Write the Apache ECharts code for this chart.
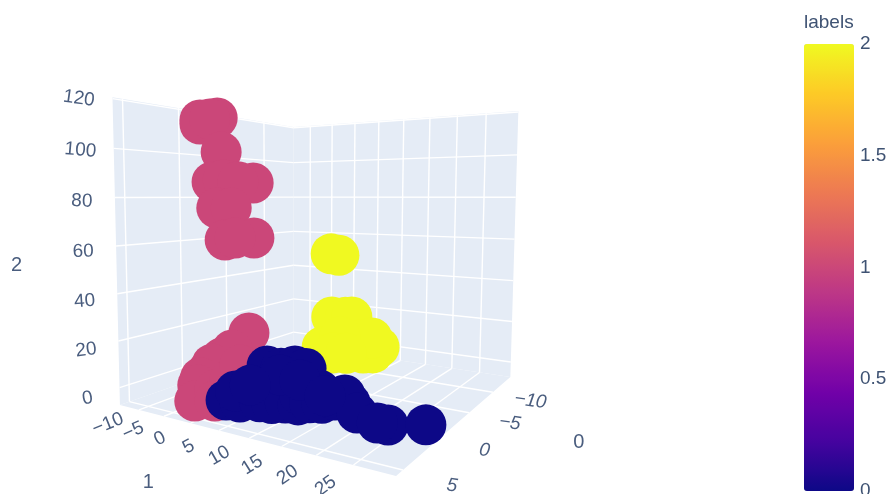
<!DOCTYPE html>
<html>
<head>
<meta charset="utf-8">
<script src="https://cdn.jsdelivr.net/npm/echarts@6/dist/echarts.min.js"></script>
<style>html,body{margin:0;background:#fff}#main{width:890px;height:494px}</style>
</head>
<body>
<div id="main"></div>
<script>
// [axis 0, axis 1, axis 2] per point
const label1Points = [
  [-4, -13.8, 118.7], [-4, -17.7, 118.4], [-4, -17.7, 116.4], [-4, -15.5, 118.5], [-4, -13, 102.1], [-4, -15.1, 87.6],
  [-4, -6.2, 86.8], [-4, -12.6, 88.5], [-4, -9.4, 87.5], [-4, -14.1, 74.7], [-4, -10.9, 74.8], [-4, -12.3, 59],
  [-4, -6.1, 60.6], [-4, -10.1, 60.2],
  [0, -0.2, 21.2], [0, -5.6, 7.9], [0, -3.5, 12.4], [0, -8.7, 0.1], [0, -7.6, 4.3], [0, -10.1, -3.2], [0, -10.7, -6.9],
  [0, -11.4, -14.9], [0, -7.1, -7.5], [0, -4, -1.5], [0, -2, 6.2], [0, -7.1, -12.7]
]
const label2Points = [
  [-10, 0.8, 51], [-10, 2.4, 50.5], [-10, 1, 18.2], [-10, 3.8, 18.8], [-10, 5.1, 19.4], [-10, 10.5, 5.8], [-10, 7.4, 1.6],
  [-10, 9.3, 2.4], [-10, -1, 1.6], [-10, 6.8, 8.1], [-10, 9.1, 9.9], [-10, 2.7, 8.2], [-10, 1.3, -0.7], [-10, 4, 0.2]
]
const label0Points = [
  [2, -1, -5.6], [2, 1.6, -5.1], [2, 0.8, -0.8], [2, 5.2, -3.2], [2, 7.3, -2.8], [2, 9.6, -1.4], [2, 11.7, -1.1], [2, 12, 3],
  [2, 15.2, 6.5], [2, 13.6, 0.7], [2, 15.5, 1.5], [2, 17.5, 3.8], [2, 19.8, 3.8], [2, 19, 6.5], [2, 20.8, 0.5],
  [2, 25.2, -1.5], [2, 23.7, -1.6], [2, 30.2, 1.4], [2, 6.5, 12.3], [2, 8.9, 12.4], [2, 11.2, 14.3], [2, 13, 14],
  [2, 8.7, 9.6], [2, 3.5, 3], [2, 12, 9], [2, 16, 4.7]
]
const xTicks = [-10, -5, 0, 5]
const yTicks = [-10, -5, 0, 5, 10, 15, 20, 25]
const zTicks = [0, 20, 40, 60, 80, 100, 120]
const plasma = ['#0d0887', '#46039f', '#7201a8', '#9c179e', '#bd3786', '#d8576b', '#ed7953', '#fb9f3a', '#fdca26', '#f0f921']

// scene box and the camera fitted to it
const xMin = -14.4, xMax = 5.8, yMin = -14, yMax = 30.3, zMin = -7.5, zMax = 120.5
const camera = [
  [-14.03637, 3.828424, -0.0912544, 250.2808],
  [-3.830144, -1.090974, -2.353227, 380.7776],
  [-0.01950874, -0.005549889, -0.0003106053, 1]
]
function project(p) {
  const [a, b, c] = camera.map(r => r[0] * p[0] + r[1] * p[1] + r[2] * p[2] + r[3])
  return [a / c, b / c]
}

const walls = [
  [[xMax, yMin, zMin], [xMin, yMin, zMin], [xMin, yMin, zMax], [xMax, yMin, zMax]],
  [[xMin, yMin, zMin], [xMin, yMax, zMin], [xMin, yMax, zMax], [xMin, yMin, zMax]],
  [[xMax, yMin, zMin], [xMin, yMin, zMin], [xMin, yMax, zMin], [xMax, yMax, zMin]]
]
const gridLines = []
for (const x of xTicks) {
  gridLines.push([[x, yMin, zMin], [x, yMin, zMax]], [[x, yMin, zMin], [x, yMax, zMin]])
}
for (const y of yTicks) {
  gridLines.push([[xMin, y, zMin], [xMin, y, zMax]], [[xMin, y, zMin], [xMax, y, zMin]])
}
for (const z of zTicks) {
  gridLines.push([[xMax, yMin, z], [xMin, yMin, z]], [[xMin, yMin, z], [xMin, yMax, z]])
}

const minus = v => String(v).replace('-', '\u2212')
const deg = Math.PI / 180
const sceneTexts = [
  ...zTicks.map(z => ({ at: [xMax + 1.75, yMin - 2.2, z - 2.7 + z * 0.015], text: minus(z), rot: (10 - z * 0.15) * deg })),
  ...yTicks.map(y => ({ at: [xMax + 2.2, y - 0.7, zMin - 2], text: minus(y), rot: (22 + (y + 10) * 0.4) * deg })),
  ...xTicks.map(x => ({ at: [x, yMax + 5.7, zMin - 1.1], text: minus(x), rot: -8 * deg, italic: true })),
  { at: [xMax + 4, yMin - 10.2, 52.5], text: '2', size: 20 },
  { at: [xMax + 5.5, 5, zMin - 6.5], text: '1', size: 20 },
  { at: [-6, yMax + 14.2, zMin - 6], text: '0', size: 20 }
]

const points = [
  ...label1Points.map(p => [...project(p), 1]),
  ...label2Points.map(p => [...project(p), 2]),
  ...label0Points.map(p => [...project(p), 0])
]

const chart = echarts.init(document.getElementById('main'))
chart.setOption({
  animation: false,
  title: {
    text: 'labels',
    left: 804,
    top: 13,
    padding: 0,
    textStyle: { fontFamily: 'Liberation Sans', fontSize: 19, fontWeight: 'normal', color: '#3f5373' }
  },
  grid: [
    { left: 0, top: 0, width: 890, height: 494, outerBoundsMode: 'none' },
    { left: 804, top: 44, width: 50, height: 447, outerBoundsMode: 'none' }
  ],
  xAxis: [
    { type: 'value', min: 0, max: 890, show: false },
    { type: 'value', min: 0, max: 1, show: false, gridIndex: 1 }
  ],
  yAxis: [
    { type: 'value', min: 0, max: 494, inverse: true, show: false },
    {
      type: 'value',
      gridIndex: 1,
      position: 'right',
      min: 0,
      max: 2,
      interval: 0.5,
      axisLine: { show: false },
      axisTick: { show: false },
      splitLine: { show: false },
      axisLabel: { fontFamily: 'Liberation Sans', fontSize: 19, color: '#3f5373', margin: 6, showMinLabel: true, showMaxLabel: true }
    }
  ],
  visualMap: {
    type: 'continuous',
    seriesIndex: 2,
    dimension: 2,
    min: 0,
    max: 2,
    left: 804,
    top: 44,
    padding: 0,
    itemWidth: 50,
    itemHeight: 447,
    calculable: false,
    hoverLink: false,
    showLabel: false,
    inRange: { color: plasma }
  },
  series: [
    {
      type: 'custom',
      silent: true,
      z: 1,
      clip: false,
      data: walls.map((_, i) => [i]),
      encode: { x: [], y: [] },
      renderItem: (params, api) => ({
        type: 'polygon',
        shape: { points: walls[params.dataIndex].map(p => api.coord(project(p))) },
        style: { fill: '#e5ecf6' }
      })
    },
    {
      type: 'custom',
      silent: true,
      z: 2,
      clip: false,
      data: gridLines.map((_, i) => [i]),
      encode: { x: [], y: [] },
      renderItem: (params, api) => {
        const [a, b] = gridLines[params.dataIndex].map(p => api.coord(project(p)))
        return {
          type: 'line',
          shape: { x1: a[0], y1: a[1], x2: b[0], y2: b[1] },
          style: { stroke: '#fff', lineWidth: 1.4 }
        }
      }
    },
    {
      type: 'scatter',
      name: 'labels',
      z: 3,
      silent: true,
      symbolSize: 41,
      itemStyle: { opacity: 1 },
      data: points
    },
    {
      type: 'custom',
      silent: true,
      z: 4,
      clip: false,
      data: sceneTexts.map((_, i) => [i]),
      encode: { x: [], y: [] },
      renderItem: (params, api) => {
        const t = sceneTexts[params.dataIndex]
        const [x, y] = api.coord(project(t.at))
        return {
          type: 'text',
          x,
          y,
          rotation: t.rot || 0,
          style: {
            text: t.text,
            x: 0,
            y: 0,
            align: 'center',
            verticalAlign: 'middle',
            fill: '#4a5d7e',
            font: (t.italic ? 'italic ' : '') + (t.size || 19) + 'px "Liberation Sans"'
          }
        }
      }
    }
  ]
})
</script>
</body>
</html>
